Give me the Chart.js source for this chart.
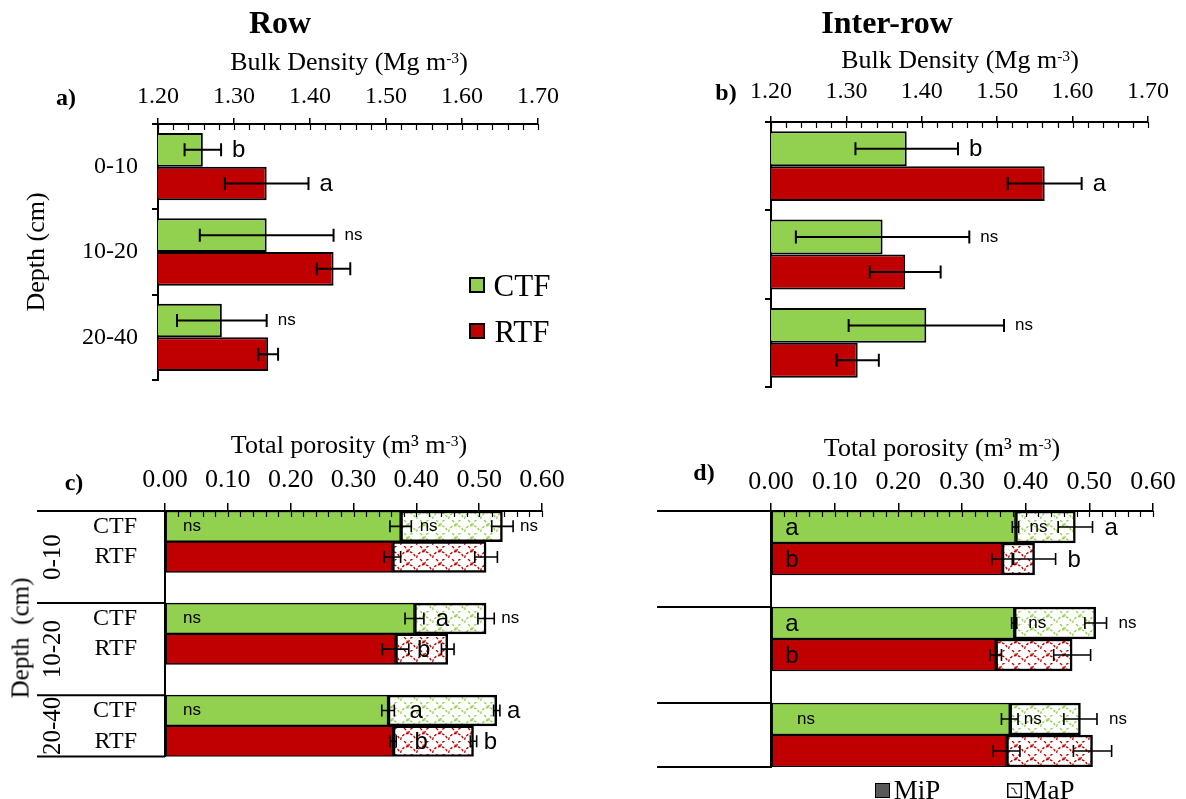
<!DOCTYPE html>
<html>
<head>
<meta charset="utf-8">
<script src="https://cdn.jsdelivr.net/npm/chart.js@4.4.1/dist/chart.umd.min.js"></script>
<style>
  html, body { margin: 0; padding: 0; background: #fff; }
  body { width: 1186px; height: 799px; position: relative; overflow: hidden; font-family: "Liberation Serif", "Times New Roman", serif; color: #000; }
  canvas { position: absolute; left: 0; top: 0; }
  .t { position: absolute; white-space: pre; line-height: 1; transform: translate(-50%, -50%); }
  .b { font-weight: bold; }
  .rot { transform: translate(-50%, -50%) rotate(-90deg); }
  sup { font-size: 60%; vertical-align: 0.45em; line-height: 0; }
  .sw { position: absolute; box-sizing: border-box; border: 2px solid #000; }
</style>
</head>
<body>
<canvas id="cA" width="1186" height="799"></canvas>
<canvas id="cB" width="1186" height="799"></canvas>
<canvas id="cC" width="1186" height="799"></canvas>
<canvas id="cD" width="1186" height="799"></canvas>

<div class="t b" style="left:280px;top:22px;font-size:32px">Row</div>
<div class="t b" style="left:887px;top:22px;font-size:32px">Inter-row</div>

<div class="t" style="left:349px;top:62px;font-size:26px">Bulk Density (Mg m<sup>-3</sup>)</div>
<div class="t" style="left:960px;top:60px;font-size:26px">Bulk Density (Mg m<sup>-3</sup>)</div>
<div class="t b" style="left:66px;top:97px;font-size:24px">a)</div>
<div class="t b" style="left:726px;top:92px;font-size:24px">b)</div>
<div class="t rot" style="left:36px;top:252px;font-size:26px">Depth (cm)</div>

<div class="t" style="left:349px;top:445px;font-size:26px">Total porosity (m³ m<sup>-3</sup>)</div>
<div class="t" style="left:942px;top:448px;font-size:26px">Total porosity (m³ m<sup>-3</sup>)</div>
<div class="t b" style="left:74px;top:482px;font-size:24px">c)</div>
<div class="t b" style="left:704px;top:472px;font-size:24px">d)</div>
<div class="t rot" style="left:20px;top:638px;font-size:25px">Depth  (cm)</div>

<div id="legSys"></div>
<div id="legPor"></div>

<script>
// ---- categories and tick labels ----
const depths = ['0-10', '10-20', '20-40'];
const systems = ['CTF', 'RTF'];
const bdTickLabels = ['1.20', '1.30', '1.40', '1.50', '1.60', '1.70'];
const tpTickLabels = ['0.00', '0.10', '0.20', '0.30', '0.40', '0.50', '0.60'];
const fractions = ['MiP', 'MaP'];

// ---- bulk density (Mg m-3), row ----
const bdRowCTF = [1.259, 1.343, 1.284];
const bdRowRTF = [1.343, 1.431, 1.345];
const bdRowErrCTF = [0.024, 0.088, 0.059];
const bdRowErrRTF = [0.055, 0.022, 0.013];
const bdRowLetCTF = ['b', 'ns', 'ns'];
const bdRowLetRTF = ['a', '', ''];

// ---- bulk density (Mg m-3), inter-row ----
const bdIntCTF = [1.380, 1.348, 1.406];
const bdIntRTF = [1.563, 1.378, 1.315];
const bdIntErrCTF = [0.068, 0.115, 0.103];
const bdIntErrRTF = [0.049, 0.047, 0.028];
const bdIntLetCTF = ['b', 'ns', 'ns'];
const bdIntLetRTF = ['a', '', ''];

// ---- porosity (m3 m-3), row ----
const mipRowCTF = [0.375, 0.397, 0.355];
const mipRowRTF = [0.362, 0.367, 0.363];
const mapRowCTF = [0.162, 0.114, 0.173];
const mapRowRTF = [0.149, 0.083, 0.128];
const mipRowErrCTF = [0.017, 0.015, 0.010];
const mipRowErrRTF = [0.013, 0.021, 0.005];
const totRowErrCTF = [0.017, 0.013, 0.005];
const totRowErrRTF = [0.018, 0.010, 0.005];
const mipRowLetCTF = ['ns', 'ns', 'ns'];
const mipRowLetRTF = ['', '', ''];
const mapRowLetCTF = ['ns', 'a', 'a'];
const mapRowLetRTF = ['', 'b', 'b'];
const totRowLetCTF = ['ns', 'ns', 'a'];
const totRowLetRTF = ['', '', 'b'];

// ---- porosity (m3 m-3), inter-row ----
const mipIntCTF = [0.384, 0.382, 0.375];
const mipIntRTF = [0.363, 0.353, 0.370];
const mapIntCTF = [0.094, 0.128, 0.111];
const mapIntRTF = [0.051, 0.120, 0.135];
const mipIntErrCTF = [0.005, 0.004, 0.013];
const mipIntErrRTF = [0.016, 0.009, 0.021];
const totIntErrCTF = [0.027, 0.017, 0.026];
const totIntErrRTF = [0.033, 0.029, 0.030];
const mipIntLetCTF = ['a', 'a', 'ns'];
const mipIntLetRTF = ['b', 'b', ''];
const mapIntLetCTF = ['ns', 'ns', 'ns'];
const mapIntLetRTF = ['', '', ''];
const totIntLetCTF = ['a', 'ns', 'ns'];
const totIntLetRTF = ['b', '', ''];

// ---- styling ----
const GREEN = '#92d050';
const RED = '#c00000';
const sysColors = [GREEN, RED];
const SERIF = 'Liberation Serif';
const SANS = 'Liberation Sans';
Chart.defaults.font.family = SERIF;
Chart.defaults.color = '#000';

const W = 1186, H = 799;

// wavy scale-pattern fill used for the macropore segments
function hatch(color) {
  const w = 16, h = 13;
  const c = document.createElement('canvas');
  c.width = w; c.height = h;
  const g = c.getContext('2d');
  g.fillStyle = '#fff';
  g.fillRect(0, 0, w, h);
  g.strokeStyle = color;
  g.lineWidth = 1.3;
  g.setLineDash([2.6, 1.6]);
  const r = w / 2 - 0.5;
  g.beginPath(); g.arc(w / 2, h, r, Math.PI * 1.05, Math.PI * 1.95); g.stroke();
  g.beginPath(); g.arc(0, h / 2, r, Math.PI * 1.5, Math.PI * 1.95); g.stroke();
  g.beginPath(); g.arc(w, h / 2, r, Math.PI * 1.05, Math.PI * 1.5); g.stroke();
  return g.createPattern(c, 'repeat');
}

// rows for the porosity panels: CTF, RTF, gap, CTF, RTF, gap, CTF, RTF
function rowLabels() {
  const out = [];
  depths.forEach((d, i) => {
    systems.forEach(s => out.push(s));
    if (i < depths.length - 1) out.push('');
  });
  return out;
}
function interleave(a, b, gap) {
  const out = [];
  a.forEach((v, i) => {
    out.push(a[i]); out.push(b[i]);
    if (i < a.length - 1) out.push(gap === undefined ? null : gap);
  });
  return out;
}

// sum of stacked values up to and including dataset ds
function endValue(chart, ds, i) {
  if (!chart.options.scales.x.stacked) return chart.data.datasets[ds].data[i];
  let s = 0;
  for (let k = 0; k <= ds; k++) s += chart.data.datasets[k].data[i] || 0;
  return s;
}
function startValue(chart, ds, i) {
  let s = 0;
  for (let k = 0; k < ds; k++) s += chart.data.datasets[k].data[i] || 0;
  return s;
}

const errorBars = {
  id: 'errorBars',
  afterDatasetsDraw(chart, args, opts) {
    const ctx = chart.ctx, xs = chart.scales.x;
    ctx.save();
    ctx.strokeStyle = '#000';
    ctx.lineWidth = opts.width;
    opts.items.forEach(it => {
      const meta = chart.getDatasetMeta(it.ds);
      it.err.forEach((e, i) => {
        if (e == null) return;
        const el = meta.data[i];
        const v = endValue(chart, it.ds, i);
        const x1 = xs.getPixelForValue(v - e);
        const x2 = xs.getPixelForValue(v + e);
        const y = el.y, h = opts.cap / 2;
        ctx.beginPath();
        ctx.moveTo(x1, y); ctx.lineTo(x2, y);
        ctx.moveTo(x1, y - h); ctx.lineTo(x1, y + h);
        ctx.moveTo(x2, y - h); ctx.lineTo(x2, y + h);
        ctx.stroke();
      });
    });
    ctx.restore();
  }
};

// significance letters; 'after' = right of the error bar, 'base' = inside from the axis,
// 'seg' = centred just past the start of the stacked segment
const letters = {
  id: 'letters',
  afterDatasetsDraw(chart, args, opts) {
    const ctx = chart.ctx, xs = chart.scales.x, area = chart.chartArea;
    ctx.save();
    ctx.fillStyle = '#000';
    ctx.textBaseline = 'middle';
    opts.items.forEach(it => {
      if (!it.text) return;
      const el = chart.getDatasetMeta(it.ds).data[it.i];
      const big = it.text.length === 1;
      ctx.font = (big ? opts.big : opts.small) + 'px ' + SANS;
      let x;
      if (it.mode === 'after') {
        const v = endValue(chart, it.ds, it.i) + (it.err || 0);
        x = xs.getPixelForValue(v) + opts.gap;
        ctx.textAlign = 'left';
      } else if (it.mode === 'base') {
        x = area.left + (big ? opts.baseBig : opts.baseSmall);
        ctx.textAlign = 'center';
      } else {
        x = xs.getPixelForValue(startValue(chart, it.ds, it.i)) + opts.seg;
        ctx.textAlign = 'center';
      }
      ctx.fillText(it.text, x, el.y + (big ? 1 : 0));
    });
    ctx.restore();
  }
};

// minor ticks on the value axis, pointing into the plot
const minorTicks = {
  id: 'minorTicks',
  afterDatasetsDraw(chart, args, opts) {
    const ctx = chart.ctx, xs = chart.scales.x, top = chart.chartArea.top;
    const n = Math.round((xs.max - xs.min) / opts.step);
    ctx.save();
    ctx.strokeStyle = '#000';
    ctx.lineWidth = 1.2;
    for (let k = 0; k <= n; k++) {
      const x = Math.round(xs.getPixelForValue(xs.min + k * opts.step)) + 0.5;
      ctx.beginPath(); ctx.moveTo(x, top); ctx.lineTo(x, top + opts.len); ctx.stroke();
    }
    ctx.restore();
  }
};

// group separators left of the axis and rotated depth labels
const groups = {
  id: 'groups',
  afterDraw(chart, args, opts) {
    const ctx = chart.ctx, ys = chart.scales.y, area = chart.chartArea;
    ctx.save();
    ctx.strokeStyle = '#000';
    ctx.lineWidth = 2;
    opts.lines.forEach(s => {
      const y = Math.min(ys.getPixelForValue(s - 0.5), area.bottom);
      ctx.beginPath(); ctx.moveTo(opts.x0, y); ctx.lineTo(area.left, y); ctx.stroke();
    });
    if (opts.labels) {
      ctx.beginPath(); ctx.rect(0, area.top, area.left, area.bottom - area.top); ctx.clip();
      ctx.font = opts.font + 'px ' + SERIF;
      ctx.textAlign = 'center';
      ctx.textBaseline = 'middle';
      opts.labels.forEach((t, g) => {
        const y0 = ys.getPixelForValue(g * 3 - 0.5);
        const y1 = Math.min(ys.getPixelForValue(g * 3 + 2.5), area.bottom);
        ctx.save();
        ctx.translate(opts.lx, (y0 + y1) / 2);
        ctx.rotate(-Math.PI / 2);
        ctx.fillText(t, 0, 0);
        ctx.restore();
      });
    }
    ctx.restore();
  }
};

function fixSize(prop, val) { return s => { s[prop] = val; }; }

// ---- bulk density panels ----
function bdChart(id, area, ctf, rtf, eC, eR, lC, lR, showLabels, tickPad, yw) {
  const items = [];
  lC.forEach((t, i) => items.push({ ds: 0, i, text: t, mode: 'after', err: eC[i] }));
  lR.forEach((t, i) => items.push({ ds: 1, i, text: t, mode: 'after', err: eR[i] }));
  return new Chart(document.getElementById(id), {
    type: 'bar',
    data: {
      labels: depths,
      datasets: [
        { label: systems[0], data: ctf, backgroundColor: sysColors[0] },
        { label: systems[1], data: rtf, backgroundColor: sysColors[1] }
      ]
    },
    options: {
      indexAxis: 'y',
      responsive: false,
      animation: false,
      events: [],
      layout: { padding: { left: area.l - yw, top: area.t - 50, right: W - area.r, bottom: H - area.b } },
      datasets: { bar: { categoryPercentage: 0.79, barPercentage: 1, borderColor: '#000', borderWidth: 2, borderSkipped: false } },
      plugins: {
        legend: { display: false },
        tooltip: { enabled: false },
        errorBars: { width: 2, cap: 13, items: [{ ds: 0, err: eC }, { ds: 1, err: eR }] },
        letters: { big: 24, small: 17, gap: 11, items },
        minorTicks: { step: 0.02, len: 6 }
      },
      scales: {
        x: {
          position: 'top', min: 1.2, max: 1.7,
          ticks: { stepSize: 0.1, padding: tickPad, font: { size: 24 }, callback: (v, i) => bdTickLabels[i] },
          grid: { drawOnChartArea: false, tickLength: 6, color: '#000', lineWidth: 1.5 },
          border: { color: '#000', width: 2 },
          afterFit: fixSize('height', 50)
        },
        y: {
          ticks: { display: showLabels, autoSkip: false, padding: 14, font: { size: 24 } },
          grid: { drawOnChartArea: false, tickLength: 6, color: '#000', lineWidth: 2 },
          border: { color: '#000', width: 2 },
          afterFit: fixSize('width', yw)
        }
      }
    },
    plugins: [errorBars, letters, minorTicks]
  });
}

bdChart('cA', { l: 158, r: 538, t: 124, b: 380 }, bdRowCTF, bdRowRTF, bdRowErrCTF, bdRowErrRTF, bdRowLetCTF, bdRowLetRTF, true, 6.6, 140);
bdChart('cB', { l: 771, r: 1148, t: 122, b: 387 }, bdIntCTF, bdIntRTF, bdIntErrCTF, bdIntErrRTF, bdIntLetCTF, bdIntLetRTF, false, 9.6, 60);

// ---- porosity panels ----
function tpChart(id, area, mipC, mipR, mapC, mapR, eMiC, eMiR, eToC, eToR, lMi, lMa, lTo, opt) {
  const solid = interleave(depths.map(() => GREEN), depths.map(() => RED));
  const patt = interleave(depths.map(() => hatch(GREEN)), depths.map(() => hatch(RED)));
  const items = [];
  const mi = interleave(lMi[0], lMi[1], '');
  const ma = interleave(lMa[0], lMa[1], '');
  const to = interleave(lTo[0], lTo[1], '');
  const eTo = interleave(eToC, eToR);
  mi.forEach((t, i) => items.push({ ds: 0, i, text: t, mode: 'base' }));
  ma.forEach((t, i) => items.push({ ds: 1, i, text: t, mode: 'seg' }));
  to.forEach((t, i) => items.push({ ds: 1, i, text: t, mode: 'after', err: eTo[i] }));
  return new Chart(document.getElementById(id), {
    type: 'bar',
    data: {
      labels: rowLabels(),
      datasets: [
        { label: fractions[0], data: interleave(mipC, mipR), backgroundColor: solid, borderWidth: 1.5 },
        { label: fractions[1], data: interleave(mapC, mapR), backgroundColor: patt, borderWidth: 2.5 }
      ]
    },
    options: {
      indexAxis: 'y',
      responsive: false,
      animation: false,
      events: [],
      layout: { padding: { left: area.l - opt.yw, top: area.t - 50, right: W - area.r, bottom: H - area.b } },
      datasets: { bar: { categoryPercentage: 1, barPercentage: 1, borderColor: '#000', borderSkipped: false } },
      plugins: {
        legend: { display: false },
        tooltip: { enabled: false },
        errorBars: { width: 1.6, cap: 12, items: [{ ds: 0, err: interleave(eMiC, eMiR) }, { ds: 1, err: eTo }] },
        letters: Object.assign({ big: 24, small: 17, items }, opt.letters),
        minorTicks: { step: 0.02, len: 6 },
        groups: { x0: opt.x0, lines: [0, 3, 6, 8], labels: opt.groupLabels, lx: 53, font: 25 }
      },
      scales: {
        x: {
          position: 'top', min: 0, max: 0.6, stacked: true,
          ticks: { stepSize: 0.1, padding: opt.tickPad, font: { size: 26 }, callback: (v, i) => tpTickLabels[i] },
          grid: { drawOnChartArea: false, tickLength: 8, color: '#000', lineWidth: 1.5 },
          border: { color: '#000', width: 2 },
          afterFit: fixSize('height', 50)
        },
        y: {
          stacked: true,
          ticks: { display: opt.showLabels, autoSkip: false, padding: 28, font: { size: 24 } },
          grid: { display: false, drawTicks: false },
          border: { color: '#000', width: 2 },
          afterFit: fixSize('width', opt.yw)
        }
      }
    },
    plugins: [errorBars, letters, minorTicks, groups]
  });
}

tpChart('cC', { l: 165, r: 542, t: 511, b: 763 },
  mipRowCTF, mipRowRTF, mapRowCTF, mapRowRTF, mipRowErrCTF, mipRowErrRTF, totRowErrCTF, totRowErrRTF,
  [mipRowLetCTF, mipRowLetRTF], [mapRowLetCTF, mapRowLetRTF], [totRowLetCTF, totRowLetRTF],
  { x0: 37, groupLabels: depths, showLabels: true, tickPad: 7.4, yw: 160,
    letters: { gap: 7, baseBig: 22, baseSmall: 27, seg: 28 } });

tpChart('cD', { l: 771, r: 1153, t: 511, b: 767 },
  mipIntCTF, mipIntRTF, mapIntCTF, mapIntRTF, mipIntErrCTF, mipIntErrRTF, totIntErrCTF, totIntErrRTF,
  [mipIntLetCTF, mipIntLetRTF], [mapIntLetCTF, mapIntLetRTF], [totIntLetCTF, totIntLetRTF],
  { x0: 657, groupLabels: null, showLabels: false, tickPad: 5.4, yw: 60,
    letters: { gap: 12, baseBig: 21, baseSmall: 35, seg: 23 } });

// ---- legends ----
(function () {
  const leg = document.getElementById('legSys');
  systems.forEach((s, k) => {
    const cy = 285 + k * 46;
    leg.insertAdjacentHTML('beforeend',
      `<div class="sw" style="left:469px;top:${cy - 8}px;width:16px;height:16px;background:${sysColors[k]}"></div>` +
      `<div class="t" style="left:${493 + 29}px;top:${cy}px;font-size:31px">${s}</div>`);
  });
  const lp = document.getElementById('legPor');
  const xs = [875, 1007];
  fractions.forEach((f, k) => {
    const cy = 790;
    const sw = k === 0
      ? `<div class="sw" style="left:${xs[k]}px;top:${cy - 7}px;width:15px;height:15px;background:#595959;border-width:1.5px"></div>`
      : `<canvas id="mapSw" width="15" height="15" style="left:${xs[k]}px;top:${cy - 7}px"></canvas>`;
    lp.insertAdjacentHTML('beforeend', sw +
      `<div class="t" style="left:${xs[k] + 18 + 24}px;top:${cy}px;font-size:27px">${f}</div>`);
  });
  const c = document.getElementById('mapSw').getContext('2d');
  c.fillStyle = '#fff'; c.fillRect(0, 0, 15, 15);
  c.strokeStyle = '#333'; c.lineWidth = 1.2;
  c.beginPath(); c.moveTo(4, 5); c.quadraticCurveTo(8, 5, 8, 9); c.lineTo(10, 11); c.stroke();
  c.strokeStyle = '#000'; c.lineWidth = 1.5; c.strokeRect(0.75, 0.75, 13.5, 13.5);
})();
</script>
</body>
</html>
